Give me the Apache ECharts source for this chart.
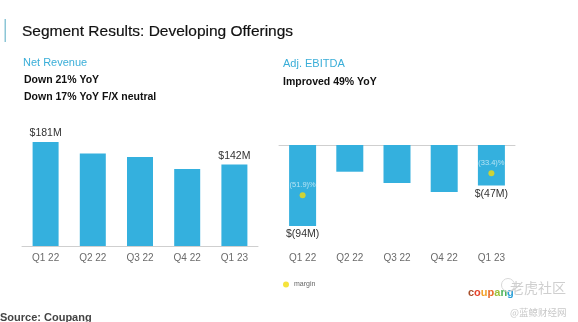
<!DOCTYPE html>
<html><head><meta charset="utf-8">
<script src="https://cdn.jsdelivr.net/npm/echarts@6/dist/echarts.min.js"></script>
<style>html,body{margin:0;padding:0;background:#fff}#c{width:578px;height:322px}</style>
</head><body><div id="c"></div>
<script>
var categories = ['Q1 22', 'Q2 22', 'Q3 22', 'Q4 22', 'Q1 23'];
var netRevenue = [181, 161, 155, 134, 142];
var netRevenueLabels = ['$181M', '', '', '', '$142M'];
var adjEbitda = [-94, -31, -44, -54.5, -47];
var adjEbitdaLabels = ['$(94M)', '', '', '', '$(47M)'];
var margin = [-51.9, null, null, null, -33.4];
var marginLabels = ['(51.9)%', '', '', '', '(33.4)%'];

var FONT = 'Liberation Sans';
var BLUE = '#34b0de';
var chart = echarts.init(document.getElementById('c'));

function labelled(vals, labels, pos) {
  return vals.map(function (v, i) {
    return { value: v, label: { show: !!labels[i], formatter: labels[i], position: pos } };
  });
}

chart.setOption({
  animation: false,
  textStyle: { fontFamily: FONT },
  grid: [
    { left: 22, width: 236, top: 131.1, height: 114.9 },
    { left: 279, width: 236, top: 145, height: 101 }
  ],
  xAxis: [
    { gridIndex: 0, type: 'category', data: categories,
      axisLine: { lineStyle: { color: '#cfcfcf' } }, axisTick: { show: false },
      axisLabel: { color: '#6a6a6a', fontSize: 10, margin: 7, fontFamily: FONT } },
    { gridIndex: 1, type: 'category', data: categories, position: 'bottom',
      axisLine: { show: false, onZero: false }, axisTick: { show: false },
      axisLabel: { color: '#6a6a6a', fontSize: 10, margin: 7, fontFamily: FONT } },
    { gridIndex: 1, type: 'category', data: categories, position: 'top',
      axisLine: { show: true, onZero: false, lineStyle: { color: '#cfcfcf' } },
      axisTick: { show: false }, axisLabel: { show: false } }
  ],
  yAxis: [
    { gridIndex: 0, type: 'value', min: 0, max: 200, show: false, splitLine: { show: false } },
    { gridIndex: 1, type: 'value', min: -117.2, max: 0, show: false, splitLine: { show: false } },
    { gridIndex: 1, type: 'value', min: -94.5, max: -9.6, show: false, splitLine: { show: false } }
  ],
  legend: {
    data: ['margin'], left: 278, top: 276, itemWidth: 6, itemHeight: 6, itemGap: 4,
    icon: 'circle', textStyle: { fontSize: 7, color: '#666', fontFamily: FONT }
  },
  series: [
    { name: 'Net Revenue', type: 'bar', xAxisIndex: 0, yAxisIndex: 0, barWidth: 26,
      itemStyle: { color: BLUE },
      label: { color: '#333', fontSize: 10.5, distance: 3, fontFamily: FONT },
      data: labelled(netRevenue, netRevenueLabels, 'top') },
    { name: 'Adj. EBITDA', type: 'bar', xAxisIndex: 1, yAxisIndex: 1, barWidth: 27,
      itemStyle: { color: BLUE },
      label: { color: '#333', fontSize: 10.5, distance: 3, fontFamily: FONT },
      data: labelled(adjEbitda, adjEbitdaLabels, 'bottom') },
    { name: 'margin', type: 'scatter', xAxisIndex: 1, yAxisIndex: 2, symbol: 'circle', symbolSize: 6,
      itemStyle: { color: '#f2dc0b' },
      label: { color: '#d6f0fa', fontSize: 7.5, distance: 3, fontFamily: FONT },
      data: labelled(margin, marginLabels, 'top') }
  ],
  graphic: [
    { type: 'rect', shape: { x: 4.5, y: 19, width: 1.5, height: 23 }, style: { fill: '#8cc6d6' } },
    { type: 'text', x: 22, y: 32, style: { text: 'Segment Results: Developing Offerings', fontSize: 15.5, fontFamily: FONT, fill: '#111', stroke: '#111', lineWidth: 0.2, textVerticalAlign: 'middle' } },
    { type: 'text', x: 23, y: 63, style: { text: 'Net Revenue', fontSize: 11, fontFamily: FONT, fill: '#3aaed8', textVerticalAlign: 'middle' } },
    { type: 'text', x: 24, y: 80, style: { text: 'Down 21% YoY', fontSize: 10.5, fontWeight: 'bold', fontFamily: FONT, fill: '#111', textVerticalAlign: 'middle' } },
    { type: 'text', x: 24, y: 97, style: { text: 'Down 17% YoY F/X neutral', fontSize: 10.5, fontWeight: 'bold', fontFamily: FONT, fill: '#111', textVerticalAlign: 'middle' } },
    { type: 'text', x: 283, y: 63.5, style: { text: 'Adj. EBITDA', fontSize: 11, fontFamily: FONT, fill: '#3aaed8', textVerticalAlign: 'middle' } },
    { type: 'text', x: 283, y: 82, style: { text: 'Improved 49% YoY', fontSize: 10.5, fontWeight: 'bold', fontFamily: FONT, fill: '#111', textVerticalAlign: 'middle' } },
    { type: 'text', x: 0, y: 317.5, style: { text: 'Source: Coupang', fontSize: 11, fontWeight: 'bold', fontFamily: FONT, fill: '#444', textVerticalAlign: 'middle' } },
    { type: 'text', x: 468, y: 293, style: { rich: {
        a: { fill: '#a8502c', fontSize: 11, fontWeight: 'bold', fontFamily: FONT },
        b: { fill: '#e5432b', fontSize: 11, fontWeight: 'bold', fontFamily: FONT },
        c: { fill: '#f2a22a', fontSize: 11, fontWeight: 'bold', fontFamily: FONT },
        d: { fill: '#e86a2a', fontSize: 11, fontWeight: 'bold', fontFamily: FONT },
        e: { fill: '#9cc23a', fontSize: 11, fontWeight: 'bold', fontFamily: FONT },
        f: { fill: '#4db35a', fontSize: 11, fontWeight: 'bold', fontFamily: FONT },
        g: { fill: '#2a9fd8', fontSize: 11, fontWeight: 'bold', fontFamily: FONT }
      }, text: '{a|c}{b|o}{c|u}{d|p}{e|a}{f|n}{g|g}', textVerticalAlign: 'middle' } },
    { type: 'circle', shape: { cx: 508, cy: 285, r: 6.5 }, style: { fill: 'none', stroke: '#d8d8d8', lineWidth: 1 } },
    { type: 'text', x: 510, y: 288, style: { text: '老虎社区', fontSize: 14, fontFamily: 'Noto Sans CJK SC', fill: '#cfcfcf', textVerticalAlign: 'middle' } },
    { type: 'text', x: 510, y: 312.5, style: { text: '@蓝鲸财经网', fontSize: 9.5, fontFamily: 'Noto Sans CJK SC', fill: '#c8c8c8', textVerticalAlign: 'middle' } }
  ]
});
</script></body></html>
